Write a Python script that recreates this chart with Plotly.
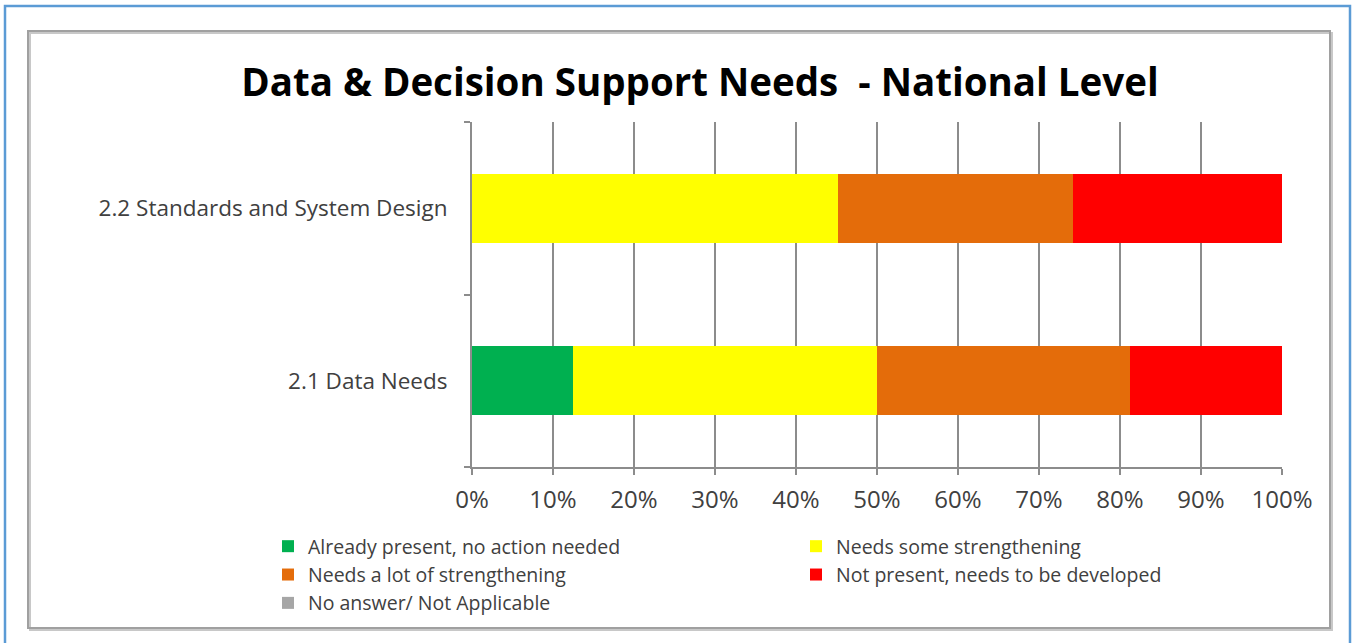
import plotly.graph_objects as go

categories = ["2.1 Data Needs", "2.2 Standards and System Design"]
series_names = [
    "Already present, no action needed",
    "Needs some strengthening",
    "Needs a lot of strengthening",
    "Not present, needs to be developed",
    "No answer/ Not Applicable",
]
already_present = [12.5, 0.0]
some_strengthening = [37.5, 45.2]
lot_strengthening = [31.25, 29.0]
not_present = [18.75, 25.8]
no_answer = [0.0, 0.0]
colors = ["#00B050", "#FFFF00", "#E46C0A", "#FF0000", "#A6A6A6"]
x_ticks = list(range(0, 101, 10))
x_tick_labels = [f"{v}%" for v in x_ticks]

W, H = 1355, 643
ML, MT = 472, 122
PW, PH = 810, 345
MR = W - ML - PW
MB = H - MT - PH

def px(x):  # reference pixel x -> paper
    return (x - ML) / PW

def py(y):  # reference pixel y -> paper
    return (MT + PH - y) / PH

FONT = "'Open Sans', sans-serif"

fig = go.Figure()
for name, vals, col in zip(series_names,
                           [already_present, some_strengthening, lot_strengthening, not_present, no_answer],
                           colors):
    fig.add_trace(go.Bar(y=categories, x=vals, name=name, orientation="h",
                         marker=dict(color=col, line=dict(width=0))))

fig.update_layout(
    width=W, height=H,
    margin=dict(l=ML, r=MR, t=MT, b=MB),
    barmode="stack", bargap=0.6,
    paper_bgcolor="white", plot_bgcolor="white",
    font=dict(family=FONT, color="#404040"),
    title=dict(text="<b>Data &amp; Decision Support Needs  - National Level</b>",
               x=px(700), xanchor="center", xref="paper",
               y=1 - 83 / H, yanchor="middle",
               font=dict(size=38.5, color="black", family=FONT)),
    xaxis=dict(range=[0, 100], tickvals=x_ticks, ticktext=x_tick_labels,
               showgrid=True, gridcolor="#8C8C8C", gridwidth=2,
               showline=True, linecolor="#8C8C8C", linewidth=2,
               ticks="outside", ticklen=6, tickcolor="#8C8C8C", tickwidth=2,
               tickfont=dict(size=24, color="#404040"), ticklabelstandoff=4,
               zeroline=False, fixedrange=True),
    yaxis=dict(categoryorder="array", categoryarray=categories,
               showline=True, linecolor="#8C8C8C", linewidth=2,
               ticks="outside", ticklen=6, tickcolor="#8C8C8C", tickwidth=2,
               tickson="boundaries", showgrid=False,
               tickfont=dict(size=22.5, color="#404040"), ticklabelstandoff=18,
               fixedrange=True),
    legend=dict(orientation="h", x=px(268), xanchor="left", y=py(527), yanchor="top",
                entrywidth=483, entrywidthmode="pixels", itemwidth=30,
                font=dict(size=19.5, color="#404040"), traceorder="normal",
                bgcolor="rgba(0,0,0,0)"),
    showlegend=True,
    shapes=[
        dict(type="rect", xref="paper", yref="paper",
             x0=px(5), x1=px(1350), y0=py(660), y1=py(6),
             line=dict(color="#5B9BD5", width=2.5), layer="below"),
        dict(type="rect", xref="paper", yref="paper",
             x0=px(30), x1=px(1332), y0=py(630), y1=py(33),
             line=dict(color="#C8C8C8", width=2), layer="below"),
        dict(type="rect", xref="paper", yref="paper",
             x0=px(28), x1=px(1330), y0=py(628), y1=py(31),
             line=dict(color="#A0A0A0", width=2), layer="below"),
    ],
)

fig.write_html("out.html",
               config={"displayModeBar": False, "staticPlot": True},
               post_script="document.body.style.margin='0';document.body.style.overflow='hidden';")
